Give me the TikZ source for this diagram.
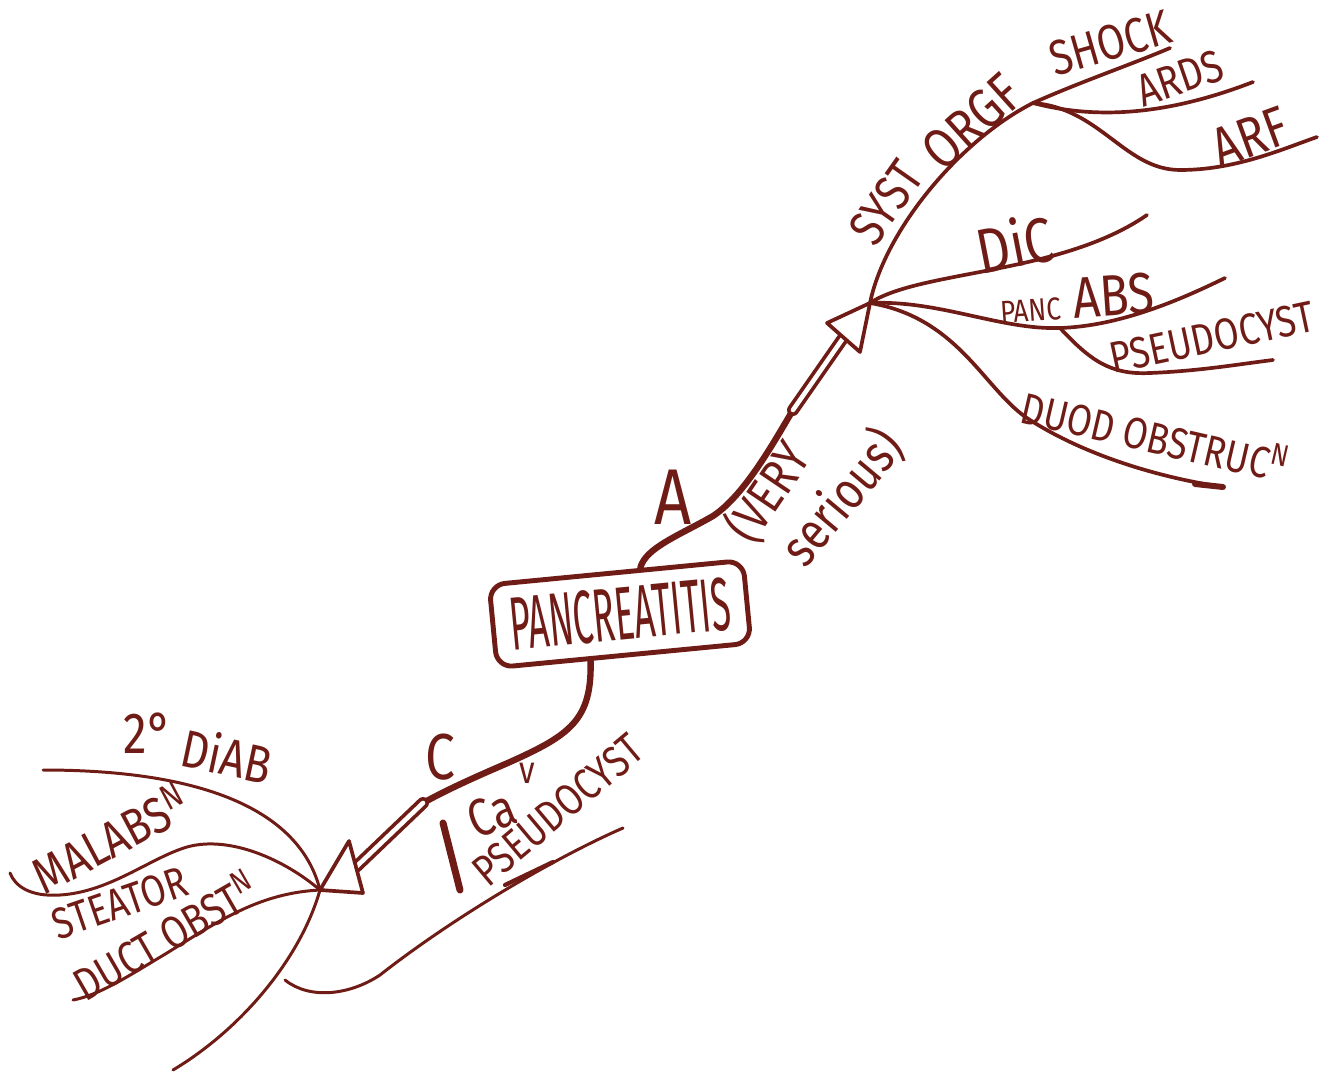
\documentclass[tikz,border=0pt]{standalone}
\usepackage{fontspec}
\newfontfamily\hw[FakeStretch=0.82]{Fira Sans}
\usetikzlibrary{calc}
\definecolor{ink}{RGB}{112,28,22}
\begin{document}
\begin{tikzpicture}[x=0.02cm,y=-0.02cm,line cap=round,line join=round,
 stem/.style={draw=ink,line width=3.6pt},
 br/.style={draw=ink,line width=2.1pt},
 thinbr/.style={draw=ink,line width=1.7pt},
 shaft/.style={draw=ink,line width=2.1pt,double=white,double distance=2.6pt},
 head/.style={draw=ink,line width=2.1pt,fill=white},
 lbl/.style={text=ink,inner sep=0pt},
 fsz/.style={font=\hw\fontsize{#1}{#1}\selectfont},
]
\fill[white] (0,0) rectangle (1336,1078);
\useasboundingbox (0,0) rectangle (1336,1078);

% central box
\node[lbl,draw=ink,line width=2.8pt,rounded corners=9pt,minimum width=5.1cm,minimum height=1.66cm,rotate=5.5,fsz=43] (pan) at (620,614) {\scalebox{0.58}[1]{PANCREATITIS}};

% hubs and ends
\coordinate (hubA) at (870,303);
\coordinate (hub2) at (1033,103);
\coordinate (hubC) at (320,890);
\coordinate (pancSplit) at (1060,328);
\coordinate (shockEnd) at (1170,48);
\coordinate (ardsEnd) at (1253,82);
\coordinate (arfEnd) at (1317,137);
\coordinate (dicEnd) at (1147,215);
\coordinate (pancEnd) at (1225,278);
\coordinate (pseuEnd) at (1273,360);
\coordinate (duodEnd) at (1223,487);
\coordinate (diabEnd) at (43,770);
\coordinate (diabEnd2) at (173,1070);
\coordinate (malEnd) at (10,873);
\coordinate (ductEnd) at (73,1000);
\coordinate (pcStart) at (623,828);
\coordinate (pcEnd) at (285,980);
\coordinate (aShaftBot) at (793,410);
\coordinate (aL) at (827,323);
\coordinate (aR) at (860,352);
\coordinate (cShaftTop) at (423,803);
\coordinate (cL) at (349,841);
\coordinate (cR) at (363,893);
\coordinate (barTop) at (443,823);
\coordinate (barBot) at (460,890);
\coordinate (aTop) at ($(pan.north)!0.19!(pan.north east)$);
\coordinate (cBot) at ($(pan.south)!0.26!(pan.south west)$);

% A stem and arrow
\draw[stem] (aTop) .. controls (645,548) and (680,535) .. (713,516) .. controls (745,495) and (775,440) .. (aShaftBot);
\draw[shaft] (aShaftBot) -- ($(aL)!0.5!(aR)$);

% upper right branches
\draw[br] (hubA) .. controls (885,230) and (960,140) .. (hub2);
\draw[br] (hub2) .. controls (1080,82) and (1130,65) .. (shockEnd);
\draw[br] (hub2) .. controls (1090,118) and (1160,118) .. (ardsEnd);
\draw[br] (hub2) .. controls (1100,108) and (1125,170) .. (1180,170) .. controls (1235,170) and (1280,150) .. (arfEnd);
\draw[br] (hubA) .. controls (920,270) and (1060,275) .. (dicEnd);
\draw[br] (hubA) .. controls (940,300) and (1000,330) .. (pancSplit) .. controls (1120,326) and (1180,300) .. (pancEnd);
\draw[br] (pancSplit) .. controls (1090,360) and (1110,375) .. (1150,373) .. controls (1200,371) and (1240,364) .. (pseuEnd);
\draw[br] (hubA) .. controls (960,318) and (985,392) .. (1030,420) .. controls (1080,452) and (1150,476) .. (duodEnd);
\draw[draw=ink,line width=3.4pt] (1195,484) -- (duodEnd);
\draw[head] (hubA) -- (aL) -- (aR) -- cycle;

% C stem and arrow
\draw[stem] (cBot) .. controls (592,720) and (570,735) .. (510,762) .. controls (480,775) and (450,788) .. (cShaftTop);
\draw[shaft] (cShaftTop) -- ($(cL)!0.5!(cR)$);

% lower left branches
\draw[thinbr] (hubC) .. controls (305,830) and (240,770) .. (diabEnd);
\draw[thinbr] (hubC) .. controls (300,960) and (240,1030) .. (diabEnd2);
\draw[thinbr] (hubC) .. controls (285,860) and (230,835) .. (187,847) .. controls (150,858) and (110,892) .. (60,895) .. controls (30,897) and (15,886) .. (malEnd);
\draw[thinbr] (hubC) .. controls (260,893) and (220,920) .. (167,953) .. controls (130,975) and (100,995) .. (ductEnd);
\draw[thinbr] (pcStart) .. controls (550,860) and (450,920) .. (380,975) .. controls (350,995) and (310,1000) .. (pcEnd);
\draw[draw=ink,line width=2.4pt] (505,885) -- (553,862);
\draw[head] (hubC) -- (cL) -- (cR) -- cycle;
\draw[draw=ink,line width=4pt] (barTop) -- (barBot);

% labels
\node[lbl,fsz=29,rotate=55] (lSyst) at (886,203) {SYST};
\node[lbl,fsz=32,rotate=42] (lOrg) at (972,122) {ORGF};
\node[lbl,fsz=28,rotate=16] (lShock) at (1110,43) {SHOCK};
\node[lbl,fsz=26,rotate=19] (lArds) at (1180,78) {ARDS};
\node[lbl,fsz=32,rotate=20] (lArf) at (1250,137) {ARF};
\node[lbl,fsz=36,rotate=11] (lDic) at (1015,243) {DiC};
\node[lbl,fsz=33,rotate=4] (lPanc) at (1077,298) {{\fontsize{18}{18}\selectfont PANC} ABS};
\node[lbl,fsz=25,rotate=12] (lPseu) at (1212,337) {PSEUDOCYST};
\node[lbl,fsz=25,rotate=-13] (lDuod) at (1155,435) {DUOD OBSTRUC\textsuperscript{N}};
\node[lbl,fsz=45] (lA) at (673,497) {A};
\node[lbl,fsz=29,rotate=56] (lVery) at (768,492) {(VERY};
\node[lbl,fsz=30,rotate=50] (lSer) at (842,497) {serious)};
\node[lbl,fsz=37] (lC) at (440,757) {C};
\node[lbl,fsz=30,rotate=22] (lCa) at (492,814) {Ca};
\node[lbl,fsz=22] (lCaV) at (527,773) {v};
\node[lbl,fsz=25,rotate=40] (lPseu2) at (558,810) {PSEUDOCYST};
\node[lbl,fsz=33] (l2) at (148,733) {2°};
\node[lbl,fsz=30,rotate=-12] (lDiab) at (227,755) {DiAB};
\node[lbl,fsz=29,rotate=28] (lMal) at (110,838) {MALABS\textsuperscript{N}};
\node[lbl,fsz=25,rotate=19] (lSte) at (120,903) {STEATOR};
\node[lbl,fsz=26,rotate=30] (lDuct) at (165,935) {DUCT OBST\textsuperscript{N}};
\end{tikzpicture}
\end{document}
